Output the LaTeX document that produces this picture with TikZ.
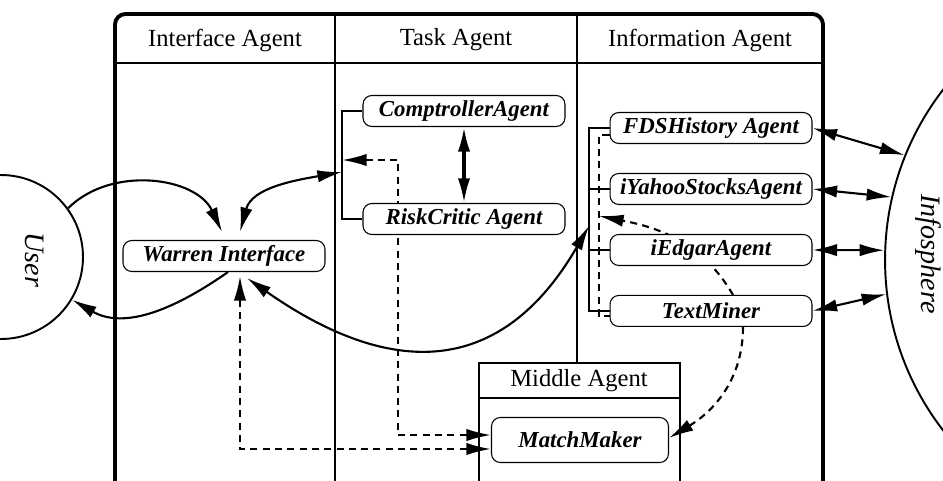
\documentclass[tikz,border=0pt]{standalone}
\usepackage{fontspec}
\setmainfont{Liberation Serif}
\usetikzlibrary{arrows.meta, positioning, calc, backgrounds}

\begin{document}
\begin{tikzpicture}[
    x=0.02cm, y=0.02cm,
    node distance=1.22cm,
    >={Latex[length=14pt,width=7pt]},
    agent/.style={rectangle, draw, rounded corners=5pt, fill=white, line width=0.6pt, inner sep=0pt, minimum width=4.04cm, minimum height=0.62cm, font=\fontsize{13}{15}\selectfont\bfseries\itshape},
    head/.style={font=\fontsize{14}{16}\selectfont},
    world/.style={circle, draw, line width=1.1pt, inner sep=0pt},
    worldlabel/.style={rotate=-90, font=\fontsize{16}{18}\selectfont\itshape},
    frame/.style={line width=0.8pt},
    link/.style={line width=1.2pt},
    dlink/.style={line width=1.2pt, dash pattern=on 4pt off 3pt}
]
\useasboundingbox (0,0) rectangle (943,-480);
\clip (0,0) rectangle (943,-480);

\node (user) [world, minimum size=3.28cm] at (1,-257) {};
\node (userlabel) [worldlabel] at (35,-260) {User};
\node (info) [world, minimum size=11.16cm] at (1164,-260) {};
\node (infolabel) [worldlabel] at (928,-254) {Infosphere};

\draw[line width=2.2pt, rounded corners=6pt] (115,-490) -- (115,-14) -- (823,-14) -- (823,-490);
\draw[frame] (115,-63) -- (823,-63);
\draw[frame] (335,-14) -- (335,-490);
\draw[frame] (577,-14) -- (577,-363);
\draw[frame] (479,-490) -- (479,-363) -- (680,-363) -- (680,-490);
\draw[frame] (479,-398) -- (680,-398);

\node (ihead) [head] at (225,-40) {Interface Agent};
\node (thead) [head] at (456,-40) {Task Agent};
\node (nhead) [head] at (700,-40) {Information Agent};
\node (mhead) [head] at (579,-381) {Middle Agent};

\node (warren) [agent] at (224,-256) {Warren Interface};
\node (compt) [agent] at (464,-111) {ComptrollerAgent};
\node (risk) [agent] at (464,-219) {RiskCritic Agent};
\node (fds) [agent] at (711,-128) {FDSHistory Agent};
\node (yahoo) [agent, below of=fds] {iYahooStocksAgent};
\node (edgar) [agent, below of=yahoo] {iEdgarAgent};
\node (miner) [agent, below of=edgar] {TextMiner};
\node (match) [agent, minimum width=3.54cm, minimum height=0.9cm] at (580,-440) {MatchMaker};

\coordinate (tbar) at (342,-172);
\coordinate (tdash) at (342,-160);
\coordinate (tturn) at (398,-160);
\coordinate (ibar) at (589,-226);
\coordinate (dbar) at (599,-216);

\draw[link] (compt.west) -| (tbar) |- (risk.west);
\draw[link] (fds.west) -| (ibar) |- (miner.west);
\draw[link] (yahoo.west) -- (yahoo.west -| ibar);
\draw[link] (edgar.west) -- (edgar.west -| ibar);
\draw[dlink] ($(fds.west)+(0,-7)$) -| (dbar) |- ($(miner.west)+(0,-5)$);

\begin{scope}[on background layer]
\draw[dlink, <->] (tdash) -- (tturn) |- ($(match.west)+(0,5)$);
\draw[dlink, ->] ($(miner.north)+(22,0)$) to[out=120, in=-11] (dbar);
\end{scope}

\draw[link, ->] (user.36) to[out=45, in=115] ($(warren.north)+(-2,8)$);
\draw[link, ->] ($(warren.south)+(4,0)$) to[out=-145, in=-30] (user.-31);
\draw[link, <->] ($(warren.north)+(16,8)$) to[out=75, in=190] (tbar);
\draw[link, <->] ($(warren.south)+(23,-6)$) to[out=-35, in=-120, looseness=1.3] (ibar);
\draw[<->, line width=1.8pt] (compt) -- (risk);
\draw[dlink, <->] ($(warren.south)+(16,-4)$) |- ($(match.west)+(0,-9)$);
\draw[dlink, ->] ($(miner.south)+(32,0)$) to[out=-90, in=31] ($(match.east)+(0,2)$);

\draw[link, <->] (fds.east) -- (info.158);
\draw[link, <->] (yahoo.east) -- (info.167);
\draw[link, <->] (edgar.east) -- (info.178);
\draw[link, <->] (miner.east) -- (info.187);

\end{tikzpicture}
\end{document}
